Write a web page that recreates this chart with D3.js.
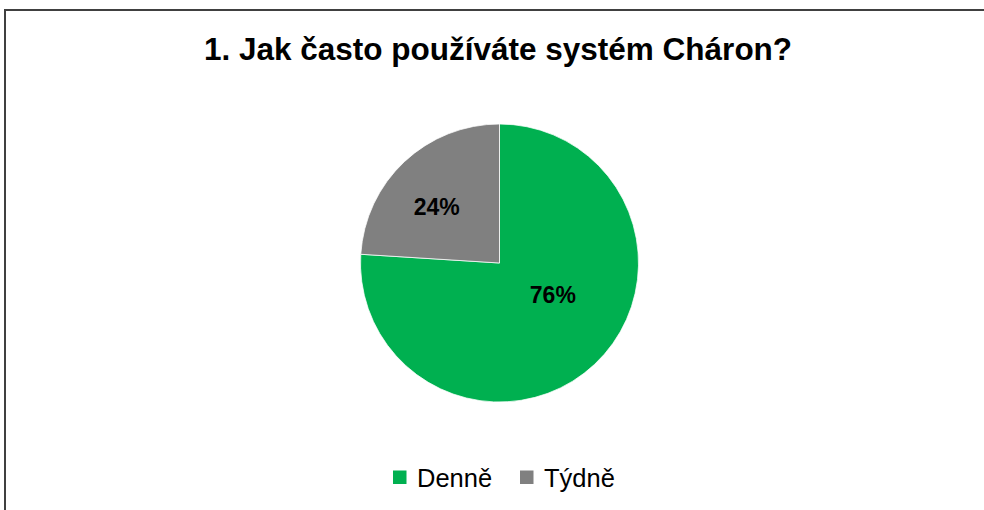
<!DOCTYPE html>
<html>
<head>
<meta charset="utf-8">
<script src="https://cdn.jsdelivr.net/npm/d3@7"></script>
<style>
    body { margin: 0; background: #ffffff; }
    text { font-family: Arial, "Liberation Sans", sans-serif; }
</style>
</head>
<body>
<div id="chart"></div>
<script>

// data
var title = "1. Jak často používáte systém Cháron?";
var categories = ["Denně", "Týdně"];
var shares = [76, 24];
var colors = ["#00b050", "#808080"];

var width = 984, height = 510;
var cx = 499.5, cy = 263, radius = 139;

var svg = d3.select("#chart").append("svg")
    .attr("width", width)
    .attr("height", height);

svg.append("rect")
    .attr("width", width)
    .attr("height", height)
    .attr("fill", "#ffffff");

// chart area border (runs off the right and bottom edge)
svg.append("rect")
    .attr("x", 5)
    .attr("y", 10)
    .attr("width", width + 20)
    .attr("height", height + 20)
    .attr("fill", "none")
    .attr("stroke", "#404040")
    .attr("stroke-width", 2);

svg.append("text")
    .attr("x", 498)
    .attr("y", 60)
    .attr("text-anchor", "middle")
    .attr("font-size", 31.5)
    .attr("font-weight", "bold")
    .attr("fill", "#000000")
    .text(title);

var data = categories.map(function(c, i) { return {cat: c, value: shares[i]}; });

var color = d3.scaleOrdinal().domain(categories).range(colors);

var pie = d3.pie()
    .sort(null)
    .value(function(d) { return d.value; });

var arc = d3.arc().innerRadius(0).outerRadius(radius);
var labelArc = d3.arc().innerRadius(radius * 0.55).outerRadius(radius * 0.55);

// small nudge so labels sit where the best-fit placement put them
var labelNudge = {"Denně": [1, -24], "Týdně": [-10.5, -0.5]};

var g = svg.append("g")
    .attr("transform", "translate(" + cx + "," + cy + ")");

var arcs = pie(data);

g.selectAll(".slice")
    .data(arcs)
    .enter().append("path")
    .attr("class", "slice")
    .attr("d", arc)
    .attr("fill", function(d) { return color(d.data.cat); })
    .attr("stroke", "#ffffff")
    .attr("stroke-width", 0.75);

g.selectAll(".label")
    .data(arcs)
    .enter().append("text")
    .attr("class", "label")
    .attr("transform", function(d) {
        var c = labelArc.centroid(d);
        var n = labelNudge[d.data.cat];
        return "translate(" + (c[0] + n[0]) + "," + (c[1] + n[1]) + ")";
    })
    .attr("text-anchor", "middle")
    .attr("dy", "0.35em")
    .attr("font-size", 23)
    .attr("font-weight", "bold")
    .attr("fill", "#000000")
    .text(function(d) { return d.data.value + "%"; });

// legend
var legendX = [393, 520];
var legend = svg.selectAll(".legend")
    .data(categories)
    .enter().append("g")
    .attr("class", "legend")
    .attr("transform", function(d, i) { return "translate(" + legendX[i] + ",470.5)"; });

legend.append("rect")
    .attr("width", 13.5)
    .attr("height", 13.5)
    .attr("fill", function(d) { return color(d); });

legend.append("text")
    .attr("x", 24)
    .attr("y", 16)
    .attr("font-size", 25.5)
    .attr("fill", "#000000")
    .text(function(d) { return d; });

</script>
</body>
</html>
